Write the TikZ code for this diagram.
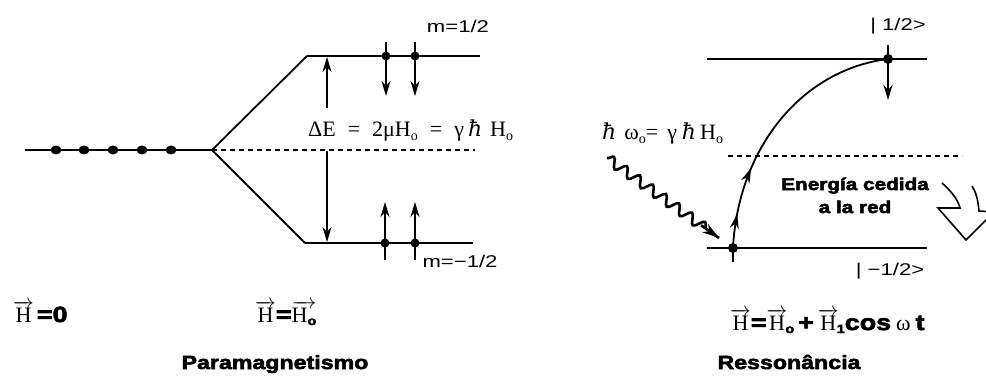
\documentclass[tikz,border=0pt]{standalone}
\usepackage{fontspec}
\setmainfont{Liberation Serif}
\newfontfamily\sflab[FakeStretch=1.3]{Liberation Sans}
\newfontfamily\sfblk[FakeStretch=1.22,FakeBold=3]{Liberation Sans Bold}
\newfontfamily\hbarfont{DejaVu Serif}
\newcommand{\hb}{{\hbarfont\itshape ħ}}
\newcommand{\sbo}{\raisebox{-4pt}{\fontsize{14}{14}\selectfont o}}
\newcommand{\sbbo}{\raisebox{-3pt}{\sfblk\fontsize{12}{12}\selectfont o}}
\newcommand{\vH}[1]{$\overrightarrow{\hbox{#1}}$}
\newcommand{\bs}[1]{{\sfblk #1}}
\usetikzlibrary{arrows.meta,decorations.pathmorphing,decorations.markings,shapes.geometric,calc}
\begin{document}
\begin{tikzpicture}[x=1pt,y=-1pt,
  lev/.style={line width=2.2pt},
  thinlev/.style={line width=1.8pt},
  dashline/.style={line width=1.5pt, dash pattern=on 5pt off 4pt},
  spin/.style={line width=2pt,-{Stealth[length=15pt,width=9pt]}},
  dot/.style={ellipse,fill,inner sep=0pt,minimum width=11pt,minimum height=9pt},
  lab/.style={font=\sflab\fontsize{17}{19}\selectfont, inner sep=0pt, anchor=base},
  blab/.style={font=\sfblk\fontsize{19}{21}\selectfont, inner sep=0pt, anchor=base},
  fml/.style={font=\fontsize{22}{24}\selectfont, inner sep=0pt, anchor=base}]
\useasboundingbox (0,0) rectangle (986,377);

% ---------- left: paramagnetism ----------
\coordinate (L0) at (25,150);
\coordinate (B) at (212,150);
\coordinate (U1) at (307,56);
\coordinate (U2) at (480,56);
\coordinate (D1) at (305,243);
\coordinate (D2) at (473,243);
\coordinate (DE) at (475,150);
\draw[lev] (L0) -- (B);
\draw[thinlev] (B) -- (U1);
\draw[lev] (U1) -- (U2);
\draw[thinlev] (B) -- (D1);
\draw[lev] (D1) -- (D2);
\draw[dashline] (B) -- (DE);
\foreach \i/\x in {1/56,2/84,3/113,4/142,5/171}
  \node[dot] (d\i) at (\x,150) {};

% spins on upper level
\foreach \i/\x in {1/386,2/415}{
  \node[dot,minimum width=9pt] (su\i) at (\x,56) {};
  \coordinate (sut\i) at (\x,42);
  \coordinate (suh\i) at (\x,96);
  \draw[spin] (sut\i) -- (suh\i);
}
% spins on lower level
\foreach \i/\x in {1/385,2/415}{
  \node[dot,minimum width=9pt] (sl\i) at (\x,243) {};
  \coordinate (slt\i) at (\x,260);
  \coordinate (slh\i) at (\x,202);
  \draw[spin] (slt\i) -- (slh\i);
}
% Delta E arrows
\coordinate (ea) at (327,108);
\coordinate (eb) at (327,57);
\coordinate (ec) at (327,151);
\coordinate (ed) at (327,242);
\draw[spin] (ea) -- (eb);
\draw[spin] (ec) -- (ed);
\node[fml,anchor=base west] (dE) at (308,137) {ΔE\hspace{12pt}=\hspace{12pt}2μH\sbo\hspace{12pt}=\hspace{12pt}γ\hspace{4pt}\hb\hspace{8pt}H\sbo};

\node[lab] (mup) at (458,33) {m=1/2};
\node[lab] (mdn) at (460,267) {m=−1/2};

\node[fml,anchor=base west] (h0) at (13,322) {\vH{H}\hspace{3pt}\bs{=0}};
\node[fml,anchor=base west] (h1) at (255,322) {\vH{H}\bs{=}\vH{H\sbbo}};
\node[blab] (para) at (275,369) {Paramagnetismo};

% ---------- right: resonance ----------
\coordinate (R1a) at (707,59);
\coordinate (R1b) at (927,59);
\coordinate (R2a) at (707,248);
\coordinate (R2b) at (927,248);
\coordinate (Rd1) at (728,156);
\coordinate (Rd2) at (962,156);
\draw[thinlev] (R1a) -- (R1b);
\draw[thinlev] (R2a) -- (R2b);
\draw[dashline] (Rd1) -- (Rd2);

\node[dot,minimum width=10pt,minimum height=10pt] (rt) at (888,59) {};
\coordinate (rtt) at (888,45);
\coordinate (rth) at (888,100);
\draw[spin] (rtt) -- (rth);

\node[dot,minimum width=10pt,minimum height=10pt] (rb) at (733,248) {};
\coordinate (rbt) at (733,262);
\draw[line width=1.8pt] (rbt) -- (rb.center);
\draw[line width=1.8pt,
  decoration={markings,
    mark=at position 0.13 with {\arrow{Stealth[length=15pt,width=9pt]}},
    mark=at position 0.31 with {\arrow{Stealth[length=15pt,width=9pt]}}},
  postaction={decorate}]
  (rb.center) .. controls (738,150) and (800,70) .. (rt.center);

\node[lab] (lup) at (898,31) {| 1/2>};
\node[lab] (ldn) at (890,275) {| −1/2>};

% photon
\coordinate (w0) at (607,158);
\coordinate (w1) at (719,238);
\draw[line width=2.6pt, decorate,
  decoration={snake,segment length=16pt,amplitude=5pt,post length=14pt}] (w0) -- (w1);
\draw[line width=2.6pt,-{Stealth[length=17pt,width=10pt]}] ($(w0)!0.84!(w1)$) -- (w1);
\node[fml,anchor=base west] (hw) at (602,140) {\hb\hspace{8pt}ω\sbo=\hspace{9pt}γ\hspace{5pt}\hb\hspace{4pt}H\sbo};

% energy to lattice
\node[blab,font=\sfblk\fontsize{17}{23}\selectfont,align=center,anchor=base] (en) at (855,213) {Energía cedida\\a la red};
\draw[line width=1.6pt] (942,183) .. controls (952,192) and (958,200) .. (960,208)
  -- (938,208) -- (966,240) -- (994,212) -- (979,211)
  .. controls (978,200) and (976,192) .. (972,186);

\node[fml,anchor=base west] (hr) at (730,330) {\vH{H}\bs{=}\vH{H}\hspace{-2pt}\sbbo\hspace{4pt}\bs{+}\hspace{4pt}\vH{H}\hspace{-2pt}\raisebox{-3pt}{\bs{\fontsize{12}{12}\selectfont 1}}\bs{cos}\hspace{5pt}ω\hspace{5pt}\bs{t}};
\node[blab] (res) at (789,369) {Ressonância};
\end{tikzpicture}
\end{document}
